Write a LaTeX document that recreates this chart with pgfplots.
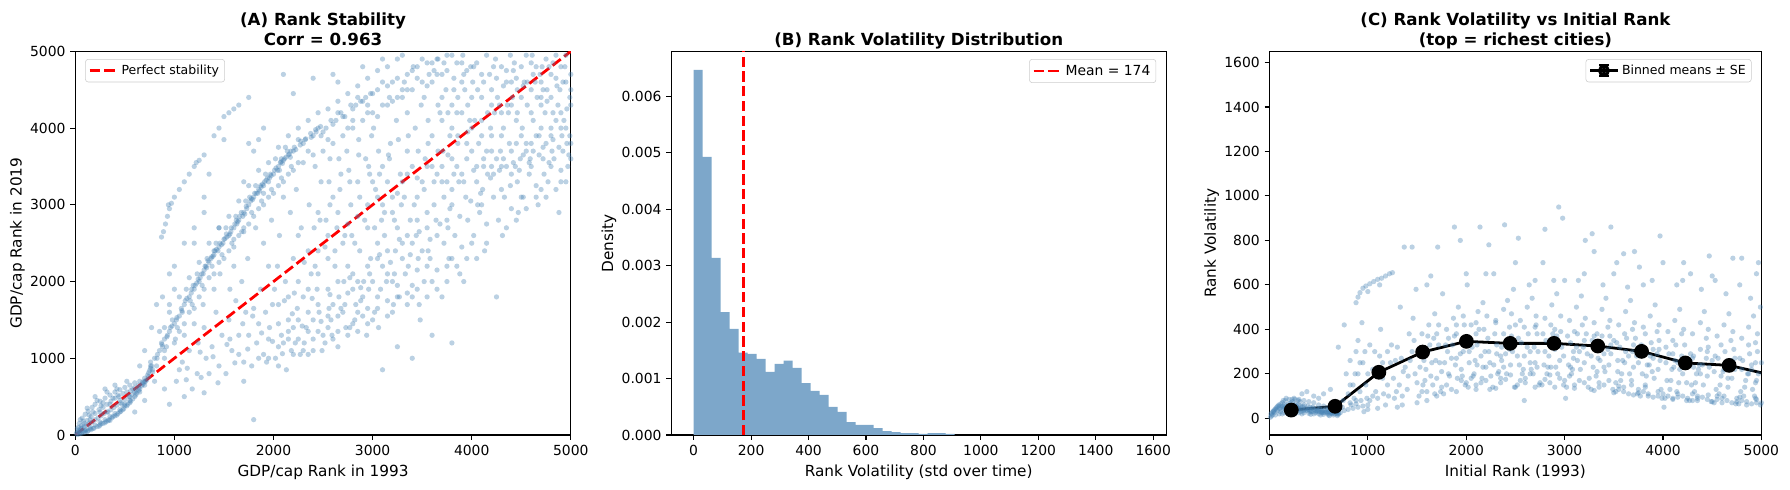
\documentclass[border=0pt]{standalone}
\usepackage{fontspec}
\setmainfont{DejaVu Sans}
\usepackage{pgfplots}
\pgfplotsset{compat=1.18}
\definecolor{steelblue}{RGB}{70,130,180}
\definecolor{histblue}{RGB}{125,167,202}
\definecolor{mplred}{RGB}{255,0,0}

\pgfplotsset{
  panel/.style={
    scale only axis, height=276.2pt,
    axis line style={line width=0.8pt},
    tick align=outside, tick pos=left,
    major tick length=3.5pt,
    every tick/.style={black, line width=0.8pt},
    tick label style={font=\fontsize{10}{12}\selectfont},
    label style={font=\fontsize{11}{13}\selectfont},
    ylabel style={yshift=-3pt},
    title style={font=\bfseries\fontsize{12}{14.4}\selectfont, align=center, yshift=-9.5pt},
    /pgf/number format/assume math mode=true,
    /pgf/number format/1000 sep={},
    scaled ticks=false,
    legend cell align=left,
    legend style={draw=black!20, rounded corners=2pt, fill=white, fill opacity=0.8,
      text opacity=1, font=\fontsize{9}{11}\selectfont, inner sep=2pt},
  },
  scat/.style={only marks, mark=*, mark size=1.9pt,
    mark options={draw opacity=0, fill=steelblue, fill opacity=0.37}, forget plot},
  reddash/.style={mplred, line width=2pt, dash pattern=on 7.4pt off 3.2pt},
}

\begin{document}
\begin{tikzpicture}
\path[use as bounding box] (0,0) rectangle (1288.8pt,352.1pt);

% (A) rank in 1993 vs rank in 2019
\begin{axis}[panel, at={(54.2pt,38.9pt)}, anchor=south west, width=356.8pt,
  title={(A) Rank Stability\\Corr = 0.963\strut},
  xlabel={GDP/cap Rank in 1993}, ylabel={GDP/cap Rank in 2019},
  xmin=0, xmax=5000, ymin=0, ymax=5000,
  xtick={0,1000,...,5000}, ytick={0,1000,...,5000},
  legend style={at={(0.02,0.98)}, anchor=north west},
  legend image code/.code={\draw[#1] (0pt,0pt) -- (20pt,0pt);},
]
% low curve near origin
\addplot[scat] coordinates {
(20,5) (40,15) (60,20) (80,30) (100,40) (130,55) (160,70) (190,90) (220,110) (250,130)
(280,150) (310,175) (340,200) (370,225) (400,250) (430,280) (460,310) (490,345) (520,380)
(550,420) (580,470) (610,520) (640,580) (670,640) (700,700) (730,780) (750,840) (770,900)
(150,80) (260,150) (350,190) (450,300) (560,440) (650,600) (720,720) (100,60) (300,160)
(500,380) (600,560) (700,740) (120,45) (240,115) (330,185) (420,260) (530,400) (620,545)
(690,680) (740,810) (760,870) (180,85) (380,240) (480,330)
(20,30) (50,35) (80,50) (110,70) (150,100) (200,130) (250,170) (300,200) (350,240) (400,280)
(450,330) (500,400) (550,450) (600,500) (650,560) (700,650) (740,760) (760,900) (780,820)
};
% upper band near origin
\addplot[scat] coordinates {
(20,80) (40,150) (70,220) (100,270) (130,310) (170,360) (200,400) (250,440) (300,480)
(350,520) (400,560) (450,590) (500,620) (550,650) (600,680) (650,700) (120,350) (220,450)
(320,560) (420,600) (520,700) (260,380) (380,480) (180,300) (80,180) (30,100) (60,120)
(150,200) (250,300) (350,400) (450,450) (550,500) (300,600) (400,650) (200,500) (50,200)
(140,260) (280,420) (430,520) (580,600) (330,300) (470,400)
(10,20) (30,40) (50,60) (70,90) (90,110) (110,130) (140,150) (170,170) (200,200) (230,220)
(260,250) (290,280) (320,300) (360,330) (390,360) (420,390) (460,420) (500,460) (540,500)
(570,530) (610,580) (640,620) (680,660) (710,700) (30,60) (60,90) (90,150) (120,190)
(160,240) (200,280) (240,330) (280,360) (320,400) (360,440) (400,480) (440,500) (480,540)
(520,560) (560,580) (600,620) (640,650) (680,690)
};
% main band
\addplot[scat] coordinates {
(800,1000) (850,1100) (900,1250) (950,1350) (1000,1450) (1050,1550) (1100,1700) (1150,1800)
(1200,1900) (1250,2000) (1300,2150) (1350,2250) (1400,2350) (1450,2450) (1500,2550)
(1550,2600) (1600,2700) (1650,2800) (1700,2900) (1750,3000) (1800,3100) (1850,3200)
(1900,3250) (1950,3300) (2000,3400) (2050,3500) (2100,3580) (2150,3650) (2200,3700)
(2300,3800) (2400,3900) (2500,3950) (2600,4050) (2700,4150) (2800,4250) (2900,4350)
(3000,4450) (3200,4600) (3400,4750) (3600,4850) (3800,4950)
(820,900) (870,1200) (920,1150) (980,1500) (1030,1400) (1080,1600) (1120,1900) (1180,1700)
(1230,2100) (1280,1950) (1330,2300) (1380,2200) (1420,2500) (1480,2350) (1520,2700)
(1580,2500) (1620,2850) (1680,2650) (1720,3050) (1780,2900) (1820,3250) (1880,3050)
(1920,3400) (1980,3200) (2020,3600) (2080,3350) (2120,3750) (2180,3500) (2250,3850)
(2350,3700) (2450,4000) (2550,3850) (2650,4200) (2750,4000) (2850,4400) (2950,4200)
(3100,4600) (3300,4500) (3500,4900) (3700,4700) (3900,4850) (1050,1350) (1150,1600)
(1250,1800) (1350,2050) (1450,2250) (1550,2400) (1650,2600) (1750,2750) (1850,2950)
(1950,3100) (2050,3250) (2150,3400) (2250,3550) (1600,2550) (1700,2700) (1900,3150)
(1400,2400) (780,850) (760,950) (900,1100) (1010,1250) (1160,1750) (1310,2200) (1460,2500)
(1610,2750) (1760,3100) (1960,3350) (2060,3450)
(830,1050) (880,1150) (930,1300) (960,1400) (1020,1500) (1070,1650) (1110,1750) (1170,1850)
(1210,1950) (1260,2050) (1290,2100) (1320,2200) (1370,2300) (1410,2400) (1440,2400)
(1490,2500) (1530,2580) (1570,2650) (1630,2750) (1660,2850) (1690,2850) (1730,2950)
(1770,3050) (1810,3150) (1840,3150) (1870,3250) (1910,3300) (1940,3350) (1970,3400)
(2010,3450) (2040,3450) (2070,3550) (2110,3600) (2140,3700) (2170,3620) (2210,3750)
(2270,3780) (2320,3850) (2380,3880) (2430,3950) (2480,3900) (2530,4000) (2580,4100)
(2630,4100) (2680,4200) (2720,4150) (2780,4300) (2830,4300) (2880,4350) (2930,4400)
(2980,4450) (3050,4500) (3150,4550) (3250,4650) (3350,4700) (3450,4800) (3550,4850)
(3650,4900) (3750,4950)
(850,1350) (950,1600) (1050,1800) (1150,2050) (1250,2250) (1350,2500) (1450,2700) (1550,2850)
(1650,3050) (1750,3250) (1850,3450) (1950,3550) (2050,3750) (2150,3900) (2250,4000) (2350,4100)
(2450,4200) (2550,4250) (2650,4350) (2750,4450) (2850,4550) (2950,4650) (3050,4750) (3150,4800)
(3250,4900)
(900,1000) (1000,1200) (1100,1450) (1200,1650) (1300,1900) (1400,2100) (1500,2300) (1600,2450)
(1700,2650) (1800,2850) (1900,3000) (2000,3150) (2100,3300) (2200,3450) (2300,3550) (2400,3650)
(2500,3700) (2600,3800) (2700,3900) (2800,4000) (2900,4100) (3000,4200) (3100,4300) (3200,4350)
(3300,4400) (3400,4500) (3500,4600)
(825,1000) (875,1180) (925,1280) (975,1420) (1025,1530) (1075,1620) (1125,1780) (1175,1900)
(1225,1980) (1275,2100) (1325,2180) (1375,2320) (1425,2420) (1475,2480) (1525,2620) (1575,2700)
(1625,2800) (1675,2900) (1725,2980) (1775,3080) (1825,3150) (1875,3230) (1925,3320) (1975,3380)
(2025,3480) (2075,3560) (2125,3620) (2175,3700) (2225,3720) (2275,3830) (2325,3860) (2375,3930)
(2425,3980) (2475,4020)
(1190,1950) (1240,2030) (1340,2270) (1390,2330) (1510,2560) (1560,2620) (1640,2780) (1710,2880)
(1790,3070) (1860,3180) (1890,3270) (2090,3540) (2160,3660) (2080,3600)
};
% thin arc and scatter above the band
\addplot[scat] coordinates {
(870,2580) (890,2650) (910,2750) (930,2850) (950,2950) (970,3020) (1000,3100) (1050,3200)
(1100,3300) (1150,3400) (1200,3500) (1250,3580) (1300,3650) (940,3000) (1220,3550)
(1400,3900) (1450,4000) (1500,4150) (1550,4200) (1600,4250) (1650,4300) (1750,4400)
(1900,4000) (2100,4700) (1500,3850) (1750,3800) (1800,3700) (1300,3100) (1350,3400)
(1200,2500) (950,2100) (1000,2200) (1100,2500) (1200,2700) (1450,2700) (1300,2900)
(1700,3300) (2200,4450) (2400,4650) (2650,4600) (1850,3850)
};
% broad cloud
\addplot[scat] coordinates {
(1020,700) (1080,950) (1150,1100) (1230,800) (1100,1300) (1200,1450) (1050,850) (1180,600)
(1240,1200) (1120,720)
(1270,750) (1320,1000) (1380,1150) (1450,900) (1300,1400) (1420,1600) (1480,1300) (1350,800)
(1400,1900) (1460,2100) (1290,1700) (1440,680)
(1520,800) (1580,1100) (1650,1300) (1700,950) (1550,1500) (1620,1750) (1720,1600) (1680,2000)
(1600,2200) (1740,2300) (1560,1900) (1700,700) (1800,200)
(1780,900) (1830,1200) (1900,1050) (1960,1400) (1800,1650) (1870,1900) (1950,2200) (1900,2500)
(1820,2700) (1980,2800) (1850,1450) (1930,950) (1990,1700)
(2020,1000) (2080,1300) (2150,1500) (2220,1200) (2050,1700) (2120,2000) (2200,2300) (2060,2600)
(2170,2900) (2230,3200) (2100,3100) (2180,1100) (2040,2200) (2240,1650) (2130,850)
(2270,1050) (2330,1400) (2400,1250) (2460,1600) (2300,1800) (2380,2100) (2450,2400) (2280,2700)
(2360,3000) (2480,3300) (2420,3500) (2310,1200) (2440,1900) (2490,1100) (2350,1600) (2410,2700)
(2520,1200) (2580,1500) (2650,1350) (2720,1700) (2550,1900) (2620,2200) (2700,2500) (2530,2800)
(2600,3100) (2680,3400) (2740,3700) (2560,1650) (2660,1800) (2710,2000) (2590,1300) (2640,2700)
(2570,3600) (2730,1400)
(2770,1400) (2830,1700) (2900,1550) (2960,1900) (2800,2100) (2870,2400) (2950,2700) (2780,3000)
(2850,3300) (2930,3600) (2990,3900) (2820,1500) (2910,2000) (2880,1750) (2980,2300) (2790,2600)
(2940,1300) (2860,3850) (2800,4100) (2950,4300)
(3020,1600) (3080,1900) (3150,1750) (3220,2100) (3050,2300) (3120,2600) (3200,2900) (3030,3200)
(3100,3500) (3180,3800) (3240,4100) (3060,1400) (3140,2000) (3230,2400) (3090,2800) (3170,4400)
(3010,4000) (3210,1700) (3100,850) (3250,1150)
(3270,1800) (3330,2100) (3400,1950) (3460,2300) (3300,2500) (3380,2800) (3450,3100) (3280,3400)
(3350,3700) (3430,4000) (3490,4300) (3320,4600) (3410,4800) (3360,2200) (3440,2600) (3470,1700)
(3290,3000) (3400,1000) (3480,1500) (3350,4200)
(3520,2000) (3580,2300) (3650,2150) (3720,2500) (3550,2700) (3620,3000) (3700,3300) (3530,3600)
(3600,3900) (3680,4200) (3740,4500) (3570,4700) (3660,4900) (3600,1300) (3700,1800) (3560,2400)
(3640,2800) (3710,3700) (3750,2200) (3520,4400)
(3770,2300) (3830,2600) (3900,2450) (3960,2800) (3800,3000) (3870,3300) (3950,3600) (3780,3900)
(3850,4200) (3930,4500) (3990,4800) (3820,4650) (3910,4950) (3800,1200) (3880,2100) (3940,3100)
(3760,2700) (3860,3800) (3980,4100) (3920,2000)
(4020,2600) (4080,2900) (4150,2750) (4220,3100) (4050,3300) (4120,3600) (4200,3900) (4030,4100)
(4100,4400) (4180,4700) (4240,4900) (4070,3800) (4160,3400) (4230,4200) (4010,4600) (4130,2400)
(4250,1800) (4060,3000) (4190,4000) (4110,3200)
(4270,2800) (4330,3100) (4400,2950) (4460,3300) (4300,3500) (4380,3800) (4450,4100) (4280,4300)
(4350,4600) (4430,4850) (4490,3600) (4320,4000) (4410,4400) (4470,2900) (4290,3700) (4370,4200)
(4440,3500) (4310,2600) (4390,4950) (4460,4500)
(4520,3100) (4580,3400) (4650,3250) (4720,3600) (4550,3800) (4620,4100) (4700,4400) (4530,4600)
(4600,4850) (4680,3900) (4740,4200) (4560,4300) (4640,4600) (4710,4800) (4590,3600) (4670,3000)
(4730,3400) (4510,4000) (4610,4950) (4690,4700)
(4770,3300) (4830,3600) (4900,3450) (4960,3800) (4800,4000) (4870,4300) (4950,4600) (4780,4800)
(4850,4950) (4930,4100) (4990,4400) (4810,3700) (4890,4500) (4970,3500) (4820,4200) (4910,3900)
(4760,4500) (4880,2900) (4990,3900) (4940,4800)
(2600,4700) (2900,4800) (3100,4900) (3300,4950)
(600,300) (700,450) (800,700) (900,600) (950,400) (1100,500) (1300,550) (880,1800) (770,1400)
(820,1700) (1000,1900) (700,1100) (650,900) (900,1400) (950,1700)
(2100,1200) (2200,1400) (2300,1100) (2400,1500) (2500,1300) (2600,1700) (2700,1600) (2800,1900)
(2900,1800) (3000,2000) (3100,2200) (3200,2000) (3300,2300) (3400,2500) (3500,2400) (2150,1800)
(2250,2000) (2350,1900) (2450,2100) (2550,2300) (2650,2000) (2750,2200) (2850,2000) (2950,2200)
(3050,2500) (3150,2400) (3250,2700) (3350,2600) (3450,2800) (3550,2900) (3650,2600) (3750,2800)
(2050,1450) (2150,1250) (2250,1500) (2350,1350) (2450,1700) (2550,1550) (2650,1550) (2750,1850)
(2850,1600) (2950,1650) (3050,1800) (3150,2100) (3250,1950) (3350,1850) (3450,2150) (3550,2200)
(1950,1000) (2050,900) (2200,1050) (2400,1100) (2600,1250) (2800,1450) (3000,1500) (3200,1600)
(3400,1800) (3600,2000) (3800,2300) (4000,2500)
(3600,4600) (3700,4400) (3800,4300) (3900,4600) (4000,4400) (4100,4700) (4200,4500) (4300,4800)
(4400,4600) (4500,4800) (4600,4500) (4700,4600) (4800,4700) (4900,4800) (5000,4700) (3700,4100)
(3800,4000) (3900,4200) (4000,4000) (4100,4100) (4200,4300) (4300,4200) (4400,4300) (4500,4400)
(4600,4200) (4700,4300) (4800,4400) (4900,4200) (5000,4300) (4000,3700) (4100,3900) (4200,3700)
(4300,3900) (4400,3700) (4500,3900) (4600,3800) (4700,4000) (4800,3900) (4900,4000) (5000,3800)
(4200,3500) (4400,3400) (4600,3500) (4800,3500) (5000,3600) (3800,3600) (3900,3400) (3600,3500)
(3500,3300) (3400,3500) (3300,3300) (3200,3100) (3100,3000) (3000,3300) (4100,3000) (4300,3200)
(4500,3100) (4700,3200) (4900,3300) (3700,3500) (3800,3200)
(1650,1050) (1750,1300) (1850,1000) (1950,1250) (2050,1150) (2150,1350) (2250,1250) (2350,1050)
(2450,1350) (2550,1400) (2650,1150) (2750,1300) (2850,1350) (2950,1450) (3050,1650) (3150,1550)
(3250,1800) (3350,1700) (3450,1900) (3550,1800) (3650,1900) (3750,2000) (3850,2200) (3950,2300)
(4050,2300) (4150,2500) (4350,2700) (4450,2800) (4550,2950) (4650,3100) (4750,3100) (4850,3200)
(4950,3300)
(2250,2600) (2350,2400) (2450,2900) (2550,2600) (2650,2900) (2750,2750) (2850,2850) (2950,3000)
(3050,3100) (3150,3300) (3250,3150) (3350,3400) (3450,3350) (3550,3500) (3650,3400) (3750,3300)
(3850,3500) (3950,3800) (4050,3500) (4150,3700) (4250,3600) (4350,3500) (4450,3800) (4550,3700)
(4650,3900) (4750,3800) (4850,4100) (4950,4000)
(3050,4150) (3150,4300) (3250,4400) (3350,4500) (3450,4650) (3550,4550) (3650,4700) (3750,4750)
(3850,4850) (3950,4750) (4050,4850) (4150,4950) (4250,4650) (4350,4750) (4450,4650) (4550,4950)
(4650,4800) (4750,4900) (4850,4650) (4950,4950)
(1130,870) (1260,1080) (1390,1020) (1530,1180) (1610,940) (1740,1120) (1880,1330) (1990,1220)
(2090,1060) (2190,1580) (2290,1420) (2390,1780) (2480,1480) (2570,1830) (2680,1650) (2770,2050)
(2880,1920) (2970,2100) (3070,2350) (3180,2250) (3270,2550) (3380,2350) (3470,2650) (3580,2550)
(3680,2750) (3780,2950) (3880,2850) (3990,3050) (4090,3150) (4190,3350) (4280,3450) (4390,3250)
(4480,3450) (4580,3550) (4680,3650) (4780,3550) (4880,3750) (4980,3650)
(1560,1250) (1690,1450) (1790,1550) (1920,1600) (2010,1900) (2110,1750) (2210,1850) (2310,2250)
(2420,2200) (2520,2450) (2620,2400) (2720,2600) (2820,2500) (2920,2800) (3020,2700) (3120,2900)
(3220,2800) (3320,3100) (3420,3000) (3520,3200) (3620,3300) (3720,3100) (3820,3400) (3920,3300)
(4020,3450) (4120,3500) (4220,3400) (4320,3600) (4420,3550) (4520,3650) (4620,3700) (4720,3750)
(4820,3850) (4920,3700)
(3560,4100) (3660,4300) (3760,4200) (3860,4400) (3960,4300) (4060,4500) (4160,4200) (4260,4400)
(4360,4300) (4460,4200) (4560,4600) (4660,4400) (4760,4350) (4860,4550) (4960,4250) (3620,4750)
(3720,4850) (3820,4500) (3920,4700) (4020,4800) (4120,4600) (4220,4800) (4320,4550) (4420,4750)
(4520,4550) (4620,4700) (4720,4500) (4820,4850) (4920,4600) (5000,4500)
(2560,3300) (2660,3600) (2760,3450) (2860,3650) (2960,3500) (3060,3700) (3160,3650) (3260,3850)
(3360,3900) (3460,3700) (3560,3800) (3660,3700) (3760,3650) (3860,3900) (3960,3950) (2470,2800)
(2570,3000) (2670,3200) (2770,3300) (2870,3100) (2970,3400) (3070,3400) (3170,3600)
};
\addplot[reddash] coordinates {(0,0) (5000,5000)};
\addlegendentry{Perfect stability}
\end{axis}

% (B) histogram of rank volatility
\begin{axis}[panel, at={(483.3pt,38.9pt)}, anchor=south west, width=356.3pt,
  title={(B) Rank Volatility Distribution\strut},
  xlabel={Rank Volatility (std over time)}, ylabel={Density},
  xmin=-78, xmax=1645, ymin=0, ymax=0.0068,
  xtick={0,200,...,1600}, ytick={0,0.001,...,0.0061},
  yticklabel style={/pgf/number format/fixed, /pgf/number format/fixed zerofill,
    /pgf/number format/precision=3},
  legend style={at={(0.98,0.98)}, anchor=north east, font=\fontsize{10}{12}\selectfont},
  legend image code/.code={\draw[#1] (0pt,0pt) -- (20pt,0pt);},
]
\addplot[ybar interval, fill=histblue, draw=none, forget plot] coordinates {
(0,0.00647) (31.34,0.00493) (62.68,0.00314) (94.02,0.00218) (125.36,0.00188)
(156.7,0.00146) (188.04,0.00144) (219.38,0.00135) (250.72,0.00112) (282.06,0.00126)
(313.4,0.00132) (344.74,0.00119) (376.08,0.00092) (407.42,0.00078) (438.76,0.00071)
(470.1,0.00050) (501.44,0.00041) (532.78,0.00023) (564.12,0.00018) (595.46,0.00018)
(626.8,0.00012) (658.14,0.00007) (689.48,0.00005) (720.82,0.000035) (752.16,0.000035)
(783.5,0.000018) (814.84,0.000035) (846.18,0.000035) (877.52,0.000018) (908.86,0)
};
\addplot[reddash] coordinates {(174,0) (174,0.0068)};
\addlegendentry{Mean = 174}
\end{axis}

% (C) volatility vs initial rank
\begin{axis}[panel, at={(914pt,38.9pt)}, anchor=south west, width=354.2pt,
  title={(C) Rank Volatility vs Initial Rank\\(top = richest cities)\strut},
  xlabel={Initial Rank (1993)}, ylabel={Rank Volatility},
  xmin=0, xmax=5000, ymin=-75, ymax=1650,
  xtick={0,1000,...,5000}, ytick={0,200,...,1600},
  legend style={at={(0.98,0.98)}, anchor=north east},
  legend image code/.code={
    \draw[black, line width=2pt] (0pt,0pt) -- (20pt,0pt);
    \draw[black, line width=1.5pt] (10pt,-3.8pt) -- (10pt,3.8pt)
      (6.5pt,-3.8pt) -- (13.5pt,-3.8pt) (6.5pt,3.8pt) -- (13.5pt,3.8pt);
    \fill[black] (10pt,0pt) circle (3.3pt);},
]
\addplot[scat] coordinates {
(10,5) (30,15) (50,25) (70,40) (100,55) (130,70) (160,80) (200,85) (250,90) (300,85)
(350,80) (400,75) (450,70) (500,60) (550,55) (600,50) (650,45) (700,40)
(20,10) (60,15) (100,20) (150,25) (200,25) (250,25) (300,25) (350,25) (400,22) (450,20)
(500,20) (550,18) (600,15) (650,15) (700,18)
(80,35) (120,40) (180,45) (240,50) (300,45) (360,40) (420,35) (480,35) (540,30) (600,30)
(660,30) (150,60) (270,65) (390,55) (510,45) (630,40) (220,70) (330,110) (380,120) (450,100)
(550,110) (620,130) (500,90) (40,30) (110,30) (170,35) (230,35) (290,35) (320,30) (410,30)
(470,25) (530,25) (590,22) (640,22) (680,25) (200,55) (280,50) (340,55) (440,50) (570,40)
(15,20) (35,30) (55,40) (75,50) (95,60) (115,65) (135,55) (155,50) (175,60) (195,65) (215,60)
(235,75) (255,60) (275,55) (295,60) (315,55) (335,50) (355,60) (375,45) (395,40) (415,50)
(435,45) (455,40) (475,45) (495,35) (515,40) (535,35) (555,35) (575,30) (595,40) (615,30)
(635,28) (655,35) (675,30) (695,28) (130,20) (190,20) (260,20) (330,20) (420,18) (520,15)
(610,12) (690,12) (170,90) (230,85) (290,80) (140,80) (260,85) (310,75)
(25,25) (45,35) (65,45) (85,55) (105,45) (125,50) (145,45) (165,40) (185,40) (205,40) (225,45)
(245,40) (265,40) (285,45) (305,40) (325,40) (345,35) (365,35) (385,35) (405,40) (425,30)
(445,30) (465,35) (485,30) (505,30) (525,30) (545,25) (565,25) (585,28) (605,25) (625,22)
(645,25) (665,20) (685,20) (705,22)
(720,25) (760,35) (800,40) (850,45) (900,50) (950,55) (1000,60) (750,80) (800,110) (850,150)
(900,200) (950,250) (780,200) (820,260) (880,300) (760,420) (900,350) (940,430) (1000,200)
(980,150) (700,320) (860,90) (920,120) (960,30) (1000,40) (740,50) (820,70) (880,65)
(820,150) (870,200) (920,250) (970,300) (1020,330) (1070,300) (1150,250) (1200,300) (830,60)
(880,80) (930,80) (990,90) (1050,100) (1100,90) (1160,110) (1210,100)
(880,520) (900,545) (920,565) (950,585) (980,595) (1020,605) (1060,615) (1100,625) (1140,630)
(1180,640) (1220,650) (1250,655) (1000,570) (1120,600)
(1020,80) (1080,120) (1150,180) (1230,250) (1050,220) (1120,280) (1200,150) (1180,60) (1240,330)
(1100,45) (1130,400)
(1270,90) (1320,150) (1380,230) (1450,300) (1300,320) (1420,380) (1480,200) (1350,60) (1400,130)
(1460,450) (1330,500) (1370,770) (1490,580) (1280,260)
(1520,100) (1580,170) (1650,250) (1720,330) (1550,380) (1620,420) (1700,180) (1600,80) (1680,470)
(1740,120) (1560,300) (1640,640) (1710,770) (1590,220) (1670,360)
(1770,110) (1830,190) (1900,270) (1960,350) (1800,400) (1870,450) (1950,220) (1850,130) (1920,500)
(1990,150) (1810,300) (1880,860) (1940,800) (1760,560) (1980,420) (1900,380)
(2020,140) (2080,200) (2150,280) (2220,360) (2050,420) (2120,480) (2200,230) (2100,150) (2170,520)
(2240,130) (2060,320) (2140,860) (2230,780) (2010,600) (2180,400) (2090,260)
(2270,140) (2330,210) (2400,290) (2460,370) (2300,430) (2380,490) (2450,240) (2350,160) (2420,530)
(2490,140) (2310,330) (2390,870) (2280,650) (2440,410) (2360,260) (2480,580)
(2520,150) (2580,220) (2650,300) (2720,380) (2550,440) (2620,500) (2700,250) (2600,160) (2670,540)
(2740,150) (2560,340) (2640,600) (2710,420) (2590,80) (2680,200) (2530,810)
(2770,150) (2830,230) (2900,310) (2960,390) (2800,450) (2870,510) (2950,260) (2850,160) (2920,560)
(2990,150) (2810,350) (2890,620) (2940,950) (2980,900) (2780,700) (2860,420) (2930,200)
(3020,140) (3080,220) (3150,300) (3220,380) (3050,440) (3120,500) (3200,250) (3100,150) (3170,550)
(3240,140) (3060,340) (3140,620) (3210,800) (3010,90) (3180,420) (3090,270)
(3270,130) (3330,210) (3400,290) (3460,370) (3300,430) (3380,490) (3450,240) (3350,140) (3420,540)
(3490,130) (3310,330) (3390,600) (3470,860) (3280,830) (3440,410) (3360,260)
(3520,120) (3580,200) (3650,280) (3720,360) (3550,420) (3620,480) (3700,230) (3600,120) (3670,530)
(3740,110) (3560,320) (3640,590) (3710,750) (3530,700) (3690,400) (3610,250)
(3770,100) (3830,190) (3900,270) (3960,350) (3800,410) (3870,460) (3950,220) (3850,100) (3920,510)
(3990,90) (3810,310) (3890,620) (3970,820) (3760,680) (3940,390) (3860,240)
(4020,90) (4080,170) (4150,250) (4220,330) (4050,390) (4120,440) (4200,200) (4100,90) (4170,490)
(4240,80) (4060,290) (4140,600) (4210,700) (4010,50) (4190,380) (4110,230)
(4270,80) (4330,160) (4400,240) (4460,320) (4300,380) (4380,430) (4450,190) (4350,80) (4420,480)
(4490,75) (4310,280) (4390,580) (4470,730) (4280,650) (4440,360) (4360,220)
(4520,70) (4580,150) (4650,230) (4720,310) (4550,370) (4620,420) (4700,180) (4600,70) (4670,470)
(4740,65) (4560,270) (4640,560) (4710,720) (4530,620) (4690,350) (4610,210)
(4770,65) (4830,140) (4900,220) (4960,300) (4800,360) (4870,410) (4950,170) (4850,60) (4920,460)
(4990,60) (4810,260) (4890,540) (4970,700) (4780,600) (4940,340) (4860,200) (4990,500) (4930,100)
(1600,120) (1800,150) (2000,160) (2200,170) (2400,175) (2600,180) (2800,175) (3000,170) (3200,160)
(3400,150) (3600,140) (3800,120) (4000,110) (4200,100) (4400,95) (4600,90) (4800,80) (5000,70)
(1700,380) (1900,420) (2100,430) (2300,440) (2500,420) (2700,410) (2900,400) (3100,390) (3300,370)
(3500,350) (3700,330) (3900,310) (4100,290) (4300,270) (4500,260) (4700,250) (4900,240)
(1530,230) (1610,300) (1690,260) (1560,150) (1640,190) (1720,420)
(1780,250) (1860,330) (1940,290) (1820,200) (1880,370) (1970,460)
(2030,250) (2110,330) (2190,300) (2070,190) (2130,400) (2210,460)
(2280,240) (2360,320) (2440,310) (2320,200) (2380,380) (2460,470)
(2540,240) (2620,320) (2690,320) (2570,200) (2630,380) (2710,460)
(2790,240) (2870,320) (2940,330) (2820,200) (2880,380) (2960,460)
(3040,240) (3120,320) (3190,320) (3070,200) (3130,380) (3210,450)
(3290,230) (3370,310) (3440,310) (3320,190) (3380,370) (3460,440)
(3540,210) (3620,300) (3690,300) (3570,170) (3630,360) (3710,430)
(3790,200) (3870,280) (3940,290) (3820,150) (3880,340) (3960,420)
(4040,170) (4120,260) (4190,280) (4070,130) (4130,330) (4210,400)
(4290,150) (4370,240) (4440,270) (4320,120) (4380,310) (4460,400)
(4540,130) (4620,220) (4690,260) (4570,110) (4630,300) (4710,390)
(4790,120) (4870,200) (4940,250) (4820,100) (4880,290) (4960,380)
(1300,50) (1500,70) (1700,100) (1900,120) (2100,130) (2300,135) (2500,140) (2700,140) (2900,140)
(3100,135) (3300,125) (3500,115) (3700,105) (3900,95) (4100,85) (4300,80) (4500,75) (4700,70)
(4900,65)
(1260,180) (1340,270) (1410,190) (1470,350) (1540,280) (1610,370) (1660,150) (1730,250) (1790,330)
(1850,270) (1910,180) (1970,300) (2040,350) (2110,240) (2160,180) (2230,300) (2290,380) (2350,280)
(2410,200) (2470,300) (2530,360) (2590,280) (2660,220) (2730,300) (2780,380) (2840,280) (2910,230)
(2970,320) (3030,370) (3090,300) (3160,220) (3230,290) (3280,350) (3340,270) (3410,210) (3470,290)
(3530,340) (3590,260) (3660,200) (3730,280) (3780,330) (3840,240) (3910,180) (3970,260) (4030,320)
(4090,220) (4160,160) (4230,240) (4280,290) (4340,200) (4410,150) (4470,230) (4530,280) (4590,190)
(4660,140) (4730,220) (4780,270) (4840,170) (4910,130) (4970,200)
(3550,130) (3650,110) (3750,115) (3850,110) (3950,100) (4050,100) (4150,95) (4250,90) (4350,90)
(4450,85) (4550,85) (4650,80) (4750,75) (4850,75) (4950,70) (3520,160) (3680,150) (3820,140)
(3980,130) (4140,120) (4300,110) (4460,105) (4620,100) (4780,95) (4940,90) (2050,180) (2250,190)
(2450,195) (2650,200) (2850,195) (3050,190) (3250,180) (3450,170)
(1450,770) (1600,600) (2000,650) (2200,650) (2500,700) (2700,620) (3000,620) (3200,650) (3500,650)
(3800,600) (4000,700) (4200,620) (4500,640) (4800,720) (4950,650) (3300,750) (3600,740) (2800,850)
(1290,120) (1360,210) (1430,260) (1500,160) (1570,260) (1630,330) (1680,110) (1750,210) (1820,360)
(1890,240) (1960,190) (2030,300) (2100,380) (2170,230) (2240,250) (2310,290) (2380,230) (2450,350)
(2520,280) (2590,410) (2650,250) (2720,230) (2800,300) (2860,230) (2920,370) (2990,280) (3060,230)
(3130,260) (3200,350) (3270,280) (3330,380) (3400,230) (3470,330) (3540,260) (3610,380) (3680,170)
(3750,250) (3820,380) (3890,210) (3960,310) (4030,250) (4100,350) (4170,220) (4240,160) (4310,230)
(4380,200) (4450,300) (4520,210) (4590,330) (4660,180) (4730,270) (4800,220) (4870,330) (4940,160)
(5000,250)
(1350,100) (1550,120) (1750,140) (1950,170) (2150,160) (2350,180) (2550,170) (2750,160) (2950,180)
(3150,170) (3350,160) (3550,145) (3750,130) (3950,120) (4150,110) (4350,100) (4550,100) (4750,90)
(4950,85)
};
\addplot[black, line width=2pt, mark=*, mark size=4.3pt,
  error bars/.cd, y dir=both, y explicit, error bar style={line width=1.5pt},
  error mark options={rotate=90, mark size=3pt, line width=1.5pt}]
  coordinates {
(222,37) +- (0,3) (667,54) +- (0,3) (1112,207) +- (0,8) (1557,298) +- (0,8)
(2002,346) +- (0,8) (2447,337) +- (0,8) (2892,337) +- (0,8) (3337,325) +- (0,8)
(3782,301) +- (0,8) (4227,249) +- (0,8) (4672,238) +- (0,8) (5117,193) +- (0,8)
};
\addlegendentry{Binned means ± SE}
\end{axis}
\end{tikzpicture}
\end{document}
